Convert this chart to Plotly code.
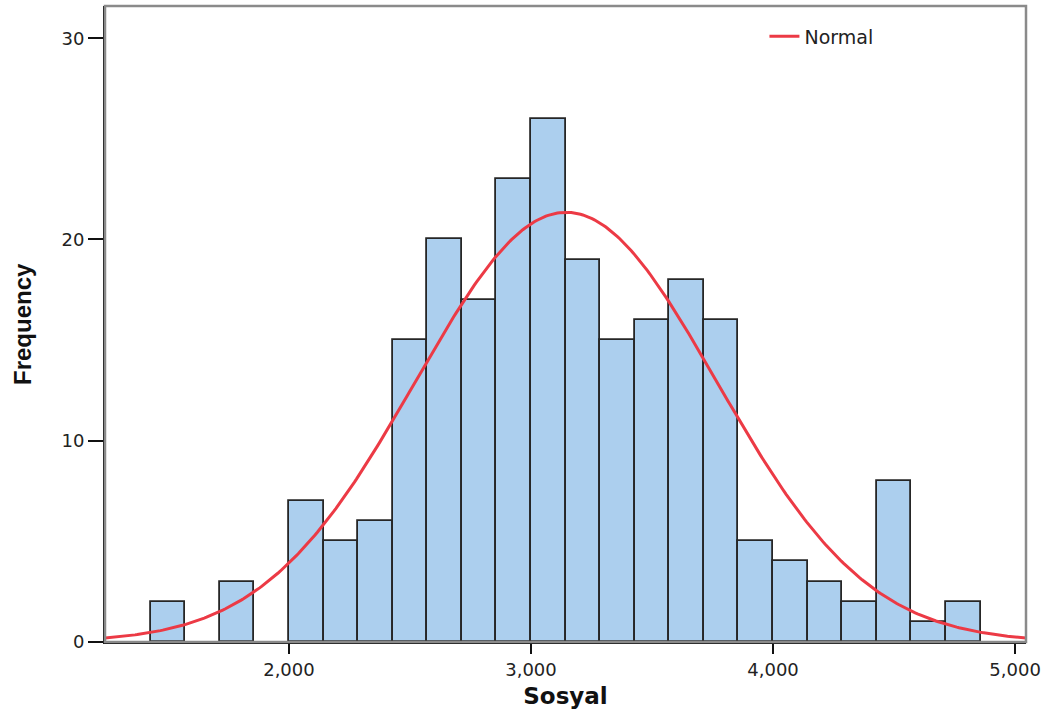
import numpy as np
import plotly.graph_objects as go

# Histogram data (Sosyal), bin width = 1000/7
bin_width = 1000 / 7
bin_start = 2000 - 4 * bin_width  # left edge of the first bin
counts = [2, 0, 3, 0, 7, 5, 6, 15, 20, 17, 23, 26, 19, 15, 16, 18, 16, 5, 4, 3, 2, 8, 1, 2]

# Normal curve parameters
n_total = sum(counts)
mean_val = 3145
sd_val = 622

x_range = [1240, 5045]
y_range = [0, 31.6]
x_ticks = [2000, 3000, 4000, 5000]
y_ticks = [0, 10, 20, 30]

centers = [bin_start + (i + 0.5) * bin_width for i in range(len(counts))]
bx = [c for c, v in zip(centers, counts) if v > 0]
by = [v for v in counts if v > 0]

xs = np.linspace(x_range[0], x_range[1], 400)
ys = n_total * bin_width / (sd_val * np.sqrt(2 * np.pi)) * np.exp(-0.5 * ((xs - mean_val) / sd_val) ** 2)

fig = go.Figure()
fig.add_trace(go.Bar(
    x=bx, y=by, width=bin_width,
    marker=dict(color="#accfee", line=dict(color="#262626", width=1.8)),
    showlegend=False, hoverinfo="x+y",
))
fig.add_trace(go.Scatter(
    x=xs, y=ys, mode="lines", name="Normal",
    line=dict(color="#ec3a45", width=3),
))

fig.update_layout(
    width=1048, height=711,
    margin=dict(l=105, r=22, t=6, b=65),
    paper_bgcolor="white", plot_bgcolor="white",
    bargap=0,
    font=dict(family="DejaVu Sans", color="#222"),
    legend=dict(x=0.716, y=0.982, xanchor="left", yanchor="top",
                bgcolor="rgba(0,0,0,0)", font=dict(size=19, color="#222")),
    shapes=[dict(type="rect", xref="paper", yref="paper", x0=0, y0=0, x1=1, y1=1,
                 line=dict(color="#8a8a8a", width=2.5), layer="above")],
    annotations=[dict(
        text="<b>Frequency</b>", textangle=-90, xref="paper", yref="paper",
        x=0, y=0.5, xanchor="center", yanchor="middle", xshift=-83, showarrow=False,
        font=dict(family="Liberation Sans Narrow, Arial Narrow, Liberation Sans", size=24, color="#111"),
    )],
)
fig.update_xaxes(
    range=x_range, tickvals=x_ticks, tickformat=",",
    ticks="outside", ticklen=10, tickwidth=2, tickcolor="#111",
    showline=True, linecolor="#111", linewidth=2, showgrid=False, zeroline=False,
    tickfont=dict(size=18, color="#222"),
    title=dict(text="<b>Sosyal</b>", font=dict(size=23, color="#111"), standoff=9),
)
fig.update_yaxes(
    range=y_range, tickvals=y_ticks,
    ticks="outside", ticklen=15, tickwidth=2, tickcolor="#111",
    showline=True, linecolor="#111", linewidth=2, showgrid=False, zeroline=False,
    tickfont=dict(size=18, color="#222"),
)

fig.write_html("out.html", config={"displayModeBar": False},
               post_script="document.body.style.margin='0';")
